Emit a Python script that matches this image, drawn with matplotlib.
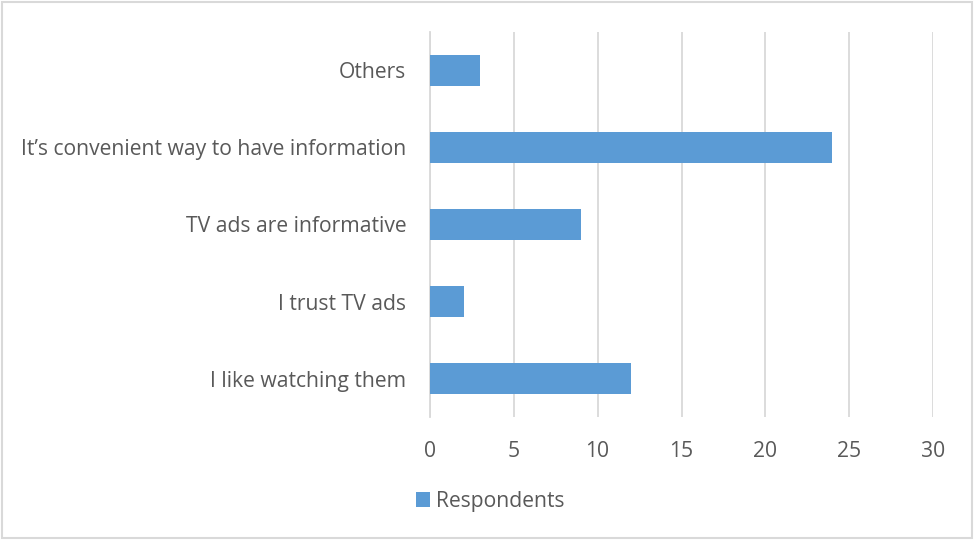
import matplotlib.pyplot as plt
from matplotlib.patches import Rectangle

plt.rcParams['font.family'] = ['Open Sans', 'DejaVu Sans']

reasons = ['I like watching them', 'I trust TV ads', 'TV ads are informative',
           'It\u2019s convenient way to have information', 'Others']
respondents = [12, 2, 9, 24, 3]
x_ticks = [0, 5, 10, 15, 20, 25, 30]

bar_color = '#5B9BD5'
text_color = '#595959'
grid_color = '#D9D9D9'

fig = plt.figure(figsize=(9.74, 5.4), dpi=100)
ax = fig.add_axes([430 / 974, 1 - 417 / 540, 503 / 974, 385 / 540])

y = range(len(reasons))
ax.barh(y, respondents, height=0.4, color=bar_color, zorder=3, label='Respondents')

ax.set_xlim(0, 30)
ax.set_ylim(-0.5, len(reasons) - 0.5)
ax.set_xticks(x_ticks)
ax.set_yticks(list(y))
ax.set_yticklabels(reasons)

ax.grid(axis='x', color=grid_color, linewidth=1.3, zorder=0)
ax.set_axisbelow(True)
for side in ['top', 'right', 'bottom']:
    ax.spines[side].set_visible(False)
ax.spines['left'].set_color(grid_color)
ax.spines['left'].set_linewidth(1.3)

ax.tick_params(axis='both', length=0, labelsize=15.2, colors=text_color)
ax.tick_params(axis='x', pad=17)
ax.tick_params(axis='y', pad=17)

leg = fig.legend(loc='center', bbox_to_anchor=(490 / 974, 1 - 501 / 540), frameon=False,
                 fontsize=15.2, handlelength=0.7, handleheight=0.7, handletextpad=0.25)
for t in leg.get_texts():
    t.set_color(text_color)

# light border around the whole chart area
fig.patches.append(Rectangle((2 / 974, 2 / 540), 970 / 974, 536 / 540,
                             transform=fig.transFigure, fill=False,
                             edgecolor=grid_color, linewidth=1.5))

fig.savefig('out.png', dpi=100)
